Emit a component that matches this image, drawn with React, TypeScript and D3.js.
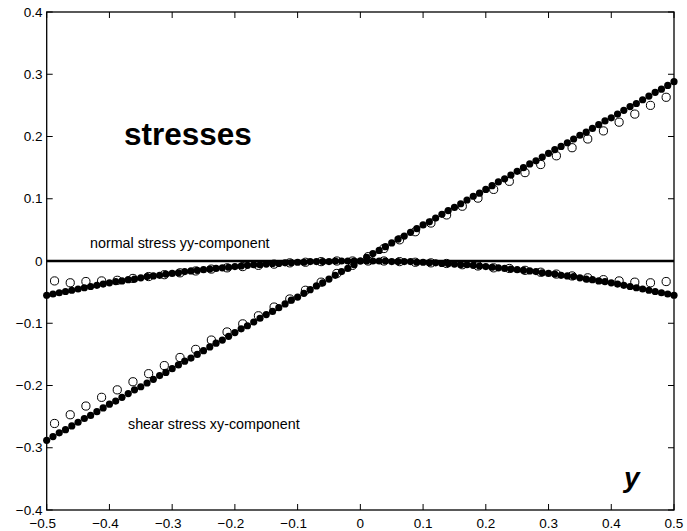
import React from "react";
import * as d3 from "d3";

// Filled markers: x = -0.50 .. 0.50 step 0.01
const fineX = [
  -0.5, -0.49, -0.48, -0.47, -0.46, -0.45, -0.44, -0.43, -0.42, -0.41,
  -0.4, -0.39, -0.38, -0.37, -0.36, -0.35, -0.34, -0.33, -0.32, -0.31,
  -0.3, -0.29, -0.28, -0.27, -0.26, -0.25, -0.24, -0.23, -0.22, -0.21,
  -0.2, -0.19, -0.18, -0.17, -0.16, -0.15, -0.14, -0.13, -0.12, -0.11,
  -0.1, -0.09, -0.08, -0.07, -0.06, -0.05, -0.04, -0.03, -0.02, -0.01,
  0,
  0.01, 0.02, 0.03, 0.04, 0.05, 0.06, 0.07, 0.08, 0.09, 0.1,
  0.11, 0.12, 0.13, 0.14, 0.15, 0.16, 0.17, 0.18, 0.19, 0.2,
  0.21, 0.22, 0.23, 0.24, 0.25, 0.26, 0.27, 0.28, 0.29, 0.3,
  0.31, 0.32, 0.33, 0.34, 0.35, 0.36, 0.37, 0.38, 0.39, 0.4,
  0.41, 0.42, 0.43, 0.44, 0.45, 0.46, 0.47, 0.48, 0.49, 0.5,
];

const shearFine = [
  -0.288, -0.282, -0.276, -0.271, -0.265, -0.259, -0.253, -0.248, -0.242, -0.236,
  -0.23, -0.225, -0.219, -0.213, -0.207, -0.202, -0.196, -0.19, -0.184, -0.179,
  -0.173, -0.167, -0.161, -0.156, -0.15, -0.144, -0.138, -0.132, -0.127, -0.121,
  -0.115, -0.109, -0.104, -0.098, -0.092, -0.086, -0.081, -0.075, -0.069, -0.063,
  -0.058, -0.052, -0.046, -0.04, -0.035, -0.029, -0.023, -0.017, -0.012, -0.006,
  0,
  0.006, 0.012, 0.017, 0.023, 0.029, 0.035, 0.04, 0.046, 0.052, 0.058,
  0.063, 0.069, 0.075, 0.081, 0.086, 0.092, 0.098, 0.104, 0.109, 0.115,
  0.121, 0.127, 0.132, 0.138, 0.144, 0.15, 0.156, 0.161, 0.167, 0.173,
  0.179, 0.184, 0.19, 0.196, 0.202, 0.207, 0.213, 0.219, 0.225, 0.23,
  0.236, 0.242, 0.248, 0.253, 0.259, 0.265, 0.271, 0.276, 0.282, 0.288,
];

const normalFine = [
  -0.055, -0.053, -0.051, -0.049, -0.047, -0.045, -0.043, -0.041, -0.039, -0.037,
  -0.035, -0.033, -0.032, -0.03, -0.029, -0.027, -0.025, -0.024, -0.023, -0.021,
  -0.02, -0.019, -0.017, -0.016, -0.015, -0.014, -0.013, -0.012, -0.011, -0.01,
  -0.009, -0.008, -0.007, -0.006, -0.006, -0.005, -0.004, -0.004, -0.003, -0.003,
  -0.002, -0.002, -0.001, -0.001, -0.001, -0.001, 0, 0, 0, 0,
  0,
  0, 0, 0, 0, -0.001, -0.001, -0.001, -0.001, -0.002, -0.002,
  -0.003, -0.003, -0.004, -0.004, -0.005, -0.006, -0.006, -0.007, -0.008, -0.009,
  -0.01, -0.011, -0.012, -0.013, -0.014, -0.015, -0.016, -0.017, -0.019, -0.02,
  -0.021, -0.023, -0.024, -0.025, -0.027, -0.029, -0.03, -0.032, -0.033, -0.035,
  -0.037, -0.039, -0.041, -0.043, -0.045, -0.047, -0.049, -0.051, -0.053, -0.055,
];

// Open markers: x = -0.4875 .. 0.4875 step 0.025
const coarseX = [
  -0.4875, -0.4625, -0.4375, -0.4125, -0.3875, -0.3625, -0.3375, -0.3125, -0.2875, -0.2625,
  -0.2375, -0.2125, -0.1875, -0.1625, -0.1375, -0.1125, -0.0875, -0.0625, -0.0375, -0.0125,
  0.0125, 0.0375, 0.0625, 0.0875, 0.1125, 0.1375, 0.1625, 0.1875, 0.2125, 0.2375,
  0.2625, 0.2875, 0.3125, 0.3375, 0.3625, 0.3875, 0.4125, 0.4375, 0.4625, 0.4875,
];

const shearCoarse = [
  -0.261, -0.247, -0.233, -0.219, -0.207, -0.194, -0.181, -0.168, -0.155, -0.142,
  -0.127, -0.114, -0.101, -0.088, -0.074, -0.061, -0.047, -0.034, -0.02, -0.007,
  0.007, 0.02, 0.034, 0.047, 0.061, 0.074, 0.088, 0.101, 0.115, 0.128,
  0.142, 0.155, 0.169, 0.182, 0.196, 0.209, 0.223, 0.236, 0.25, 0.263,
];

const normalCoarse = [
  -0.032, -0.035, -0.033, -0.032, -0.031, -0.028, -0.025, -0.022, -0.019, -0.016,
  -0.013, -0.011, -0.009, -0.007, -0.005, -0.003, -0.002, -0.001, 0, 0,
  0, 0, -0.001, -0.002, -0.003, -0.004, -0.006, -0.008, -0.011, -0.012,
  -0.015, -0.018, -0.021, -0.024, -0.027, -0.03, -0.032, -0.034, -0.035, -0.033,
];

const xTicks = [-0.5, -0.4, -0.3, -0.2, -0.1, 0, 0.1, 0.2, 0.3, 0.4, 0.5];
const yTicks = [-0.4, -0.3, -0.2, -0.1, 0, 0.1, 0.2, 0.3, 0.4];

const W = 687;
const H = 531;
const L = 46.7;
const R = 674;
const T = 12;
const B = 510;
const FONT = "'Liberation Sans', Arial, Helvetica, sans-serif";

function fmt(v: number) {
  const s = Math.abs(v) < 1e-9 ? "0" : String(Math.abs(+v.toFixed(1)));
  return { neg: v < -1e-9, digits: s };
}

export default function App() {
  const x = d3.scaleLinear().domain([-0.5, 0.5]).range([L, R]);
  const y = d3.scaleLinear().domain([-0.4, 0.4]).range([B, T]);
  const tickLen = 6;
  const fs = 13.5;

  return (
    <svg
      width={W}
      height={H}
      style={{ position: "absolute", left: 0, top: 0, background: "#fff" }}
      fontFamily={FONT}
    >
      <rect x={0} y={0} width={W} height={H} fill="#fff" />
      {/* zero line */}
      <line x1={x(-0.5)} x2={x(0.5)} y1={y(0)} y2={y(0)} stroke="#000" strokeWidth={2.4} />

      {/* open circles */}
      {coarseX.map((xv, i) => (
        <circle key={"os" + i} cx={x(xv)} cy={y(shearCoarse[i])} r={4.1} fill="none" stroke="#000" strokeWidth={1} />
      ))}
      {coarseX.map((xv, i) => (
        <circle key={"on" + i} cx={x(xv)} cy={y(normalCoarse[i])} r={4.1} fill="none" stroke="#000" strokeWidth={1} />
      ))}

      {/* filled dots */}
      {fineX.map((xv, i) => (
        <circle key={"fs" + i} cx={x(xv)} cy={y(shearFine[i])} r={3.6} fill="#000" />
      ))}
      {fineX.map((xv, i) => (
        <circle key={"fn" + i} cx={x(xv)} cy={y(normalFine[i])} r={3.6} fill="#000" />
      ))}

      {/* axes box */}
      <rect x={L} y={T} width={R - L} height={B - T} fill="none" stroke="#000" strokeWidth={1.3} />
      {xTicks.map((t, i) => (
        <g key={"xt" + i}>
          <line x1={x(t)} x2={x(t)} y1={B} y2={B - tickLen} stroke="#000" strokeWidth={1} />
          <line x1={x(t)} x2={x(t)} y1={T} y2={T + tickLen} stroke="#000" strokeWidth={1} />
        </g>
      ))}
      {yTicks.map((t, i) => (
        <g key={"yt" + i}>
          <line x1={L} x2={L + tickLen} y1={y(t)} y2={y(t)} stroke="#000" strokeWidth={1} />
          <line x1={R} x2={R - tickLen} y1={y(t)} y2={y(t)} stroke="#000" strokeWidth={1} />
        </g>
      ))}
      {xTicks.map((t, i) => {
        const f = fmt(t);
        const half = (f.digits.length === 1 ? 0.556 : 0.556 * 2 + 0.278) * fs / 2;
        return (
          <g key={"xl" + i} fontSize={fs} fill="#000">
            <text x={x(t)} y={527.5} textAnchor="middle">{f.digits}</text>
            {f.neg && <text x={x(t) - half} y={527.5} textAnchor="end">{"\u2212"}</text>}
          </g>
        );
      })}
      {yTicks.map((t, i) => {
        const f = fmt(t);
        return (
          <text key={"yl" + i} x={42.5} y={y(t) + 4.6} textAnchor="end" fontSize={fs} fill="#000">
            {(f.neg ? "\u2212" : "") + f.digits}
          </text>
        );
      })}

      {/* annotations */}
      <text x={124} y={145} fontSize={31.5} fontWeight="bold" fill="#000">stresses</text>
      <text x={90} y={248} fontSize={14.3} fill="#000">normal stress yy-component</text>
      <text x={128} y={429} fontSize={14.3} fill="#000">shear stress xy-component</text>
      <text x={624} y={487} fontSize={28} fontWeight="bold" fontStyle="italic" fill="#000">y</text>
    </svg>
  );
}
